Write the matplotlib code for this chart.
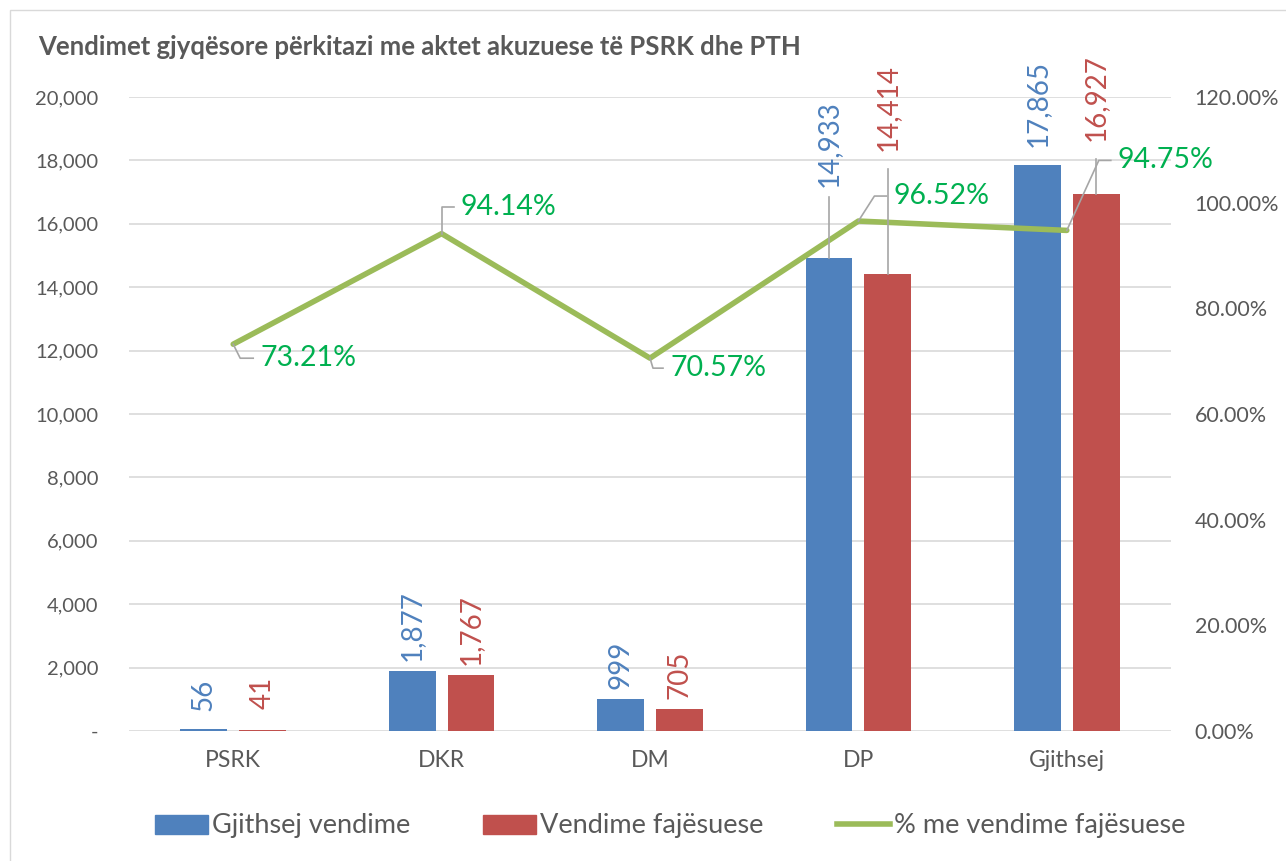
import numpy as np
import matplotlib.pyplot as plt
from matplotlib.patches import Patch, Rectangle
from matplotlib.lines import Line2D

plt.rcParams['font.family'] = ['Lato', 'DejaVu Sans']

# data
categories = ['PSRK', 'DKR', 'DM', 'DP', 'Gjithsej']
gjithsej_vendime = [56, 1877, 999, 14933, 17865]
vendime_fajesuese = [41, 1767, 705, 14414, 16927]
perqindja = [0.7321, 0.9414, 0.7057, 0.9652, 0.9475]

blue = '#4F81BD'
red = '#C0504D'
green_line = '#9BBB59'
green_text = '#00B050'
grey_text = '#595959'
leader = '#A6A6A6'

W, H = 1286, 861
fig = plt.figure(figsize=(W / 100, H / 100), dpi=100)
ax = fig.add_axes([129 / W, 1 - 731 / H, (1171 - 129) / W, (731 - 97) / H])
ax2 = ax.twinx()

x = np.arange(len(categories))
bw = 0.225
off = 0.141
ax.bar(x - off, gjithsej_vendime, bw, color=blue, zorder=2)
ax.bar(x + off, vendime_fajesuese, bw, color=red, zorder=2)
ax2.plot(x, perqindja, color=green_line, lw=4, solid_capstyle='round', zorder=3)

ax.set_xlim(-0.5, len(categories) - 0.5)
ax.set_ylim(0, 20000)
ax2.set_ylim(0, 1.2)
ax.set_yticks(np.arange(0, 20001, 2000))
ax.set_yticklabels(['-'] + [f'{v:,}' for v in range(2000, 20001, 2000)])
ax2.set_yticks(np.arange(0, 1.21, 0.2))
ax2.set_yticklabels([f'{v * 100:.2f}%' for v in np.arange(0, 1.21, 0.2)])
ax.set_xticks(x)
ax.set_xticklabels(categories)
ax.grid(axis='y', color='#D9D9D9', lw=1.2, zorder=0)
ax.set_axisbelow(True)
for a in (ax, ax2):
    for s in a.spines.values():
        s.set_visible(False)
    a.tick_params(length=0, colors=grey_text)
ax.tick_params(axis='y', pad=22, labelsize=14.5)
ax.tick_params(axis='x', pad=14, labelsize=16.5)
ax2.tick_params(axis='y', pad=17, labelsize=15.5)
for t in ax.get_yticklabels():
    t.set_ha('right')


def to_px(a, xv, yv):
    return a.transData.transform((xv, yv))


def leader_line(pts):
    xs, ys = zip(*pts)
    fig.add_artist(Line2D(xs, ys, transform=None, color=leader, lw=1.2, zorder=5))


# bar labels: label bottom offset above bar top (px), leader length (px, 0 = none)
blue_off = [18, 10, 10, 71, 18]
red_off = [21, 10, 10, 123, 53]
blue_lead = [0, 0, 0, 61, 0]
red_lead = [0, 0, 0, 105, 35]
for vals, offs, leads, col, dx in [(gjithsej_vendime, blue_off, blue_lead, blue, -off),
                                   (vendime_fajesuese, red_off, red_lead, red, off)]:
    for i, v in enumerate(vals):
        px, py = to_px(ax, i + dx, v)
        fig.text(px / W, (py + offs[i]) / H, f'{v:,}', rotation=90, ha='center', va='bottom',
                 color=col, fontsize=20)
        if leads[i]:
            leader_line([(px, py), (px, py + leads[i])])

# percentage labels with elbow leaders: (elbow dx, dy, horizontal end dx) in px
elbows = [(7, -14, 20), (0, 27, 12), (3, -10, 13), (16, 25, 28), (32, 70, 44)]
for i, p in enumerate(perqindja):
    px, py = to_px(ax2, i, p)
    ex, ey, hx = elbows[i]
    leader_line([(px, py), (px + ex, py + ey), (px + hx, py + ey)])
    fig.text((px + hx + 7) / W, (py + ey) / H, f'{p * 100:.2f}%', ha='left', va='center',
             color=green_text, fontsize=20.5)

fig.text(38 / W, 1 - 47 / H, 'Vendimet gjyqësore përkitazi me aktet akuzuese të PSRK dhe PTH',
         ha='left', va='center', fontsize=18.5, fontweight='bold', color=grey_text)

handles = [Patch(color=blue), Patch(color=red), Line2D([], [], color=green_line, lw=4)]
labels = ['Gjithsej vendime', 'Vendime fajësuese', '% me vendime fajësuese']
leg = fig.legend(handles, labels, loc='center', bbox_to_anchor=(670 / W, 1 - 826 / H), ncol=3,
                 frameon=False, fontsize=19.5, handlelength=1.95, handleheight=0.7,
                 handletextpad=0.15, columnspacing=2.7)
for t in leg.get_texts():
    t.set_color(grey_text)

fig.add_artist(Rectangle((10 / W, -0.01), 1.02, 1 - 10 / H + 0.01, transform=fig.transFigure,
                         fill=False, edgecolor='#D9D9D9', lw=1))

fig.savefig('out.png', dpi=100)
